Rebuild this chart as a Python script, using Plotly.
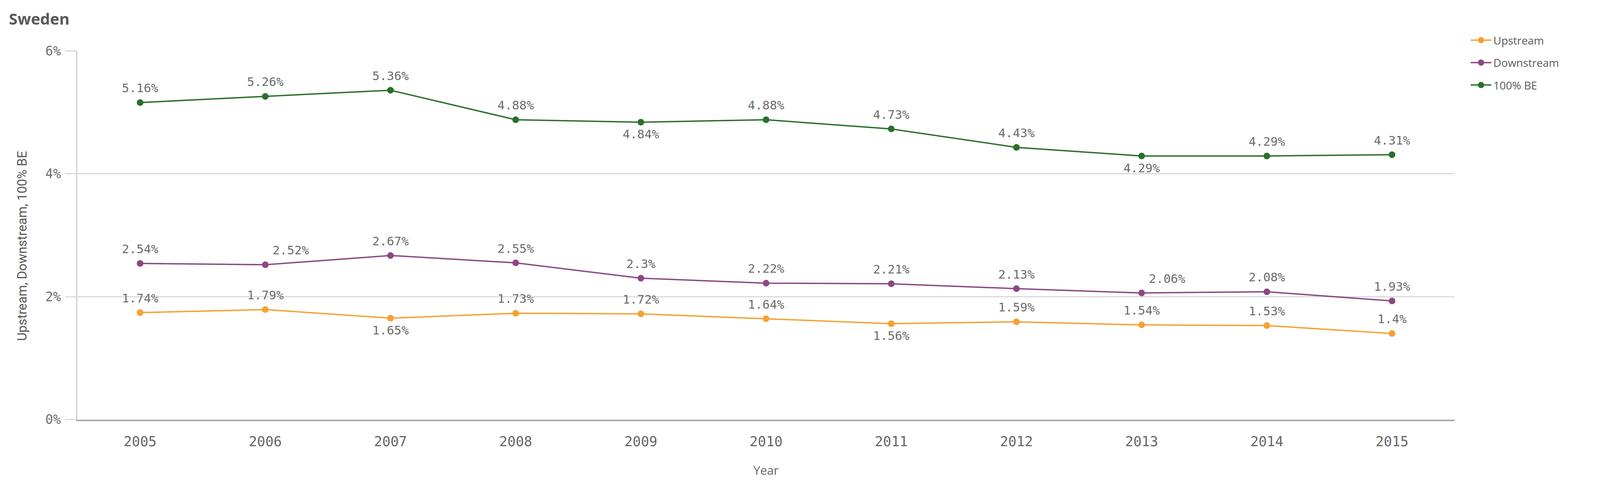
import plotly.graph_objects as go

years = ["2005", "2006", "2007", "2008", "2009", "2010", "2011", "2012", "2013", "2014", "2015"]
upstream = [1.74, 1.79, 1.65, 1.73, 1.72, 1.64, 1.56, 1.59, 1.54, 1.53, 1.40]
downstream = [2.54, 2.52, 2.67, 2.55, 2.30, 2.22, 2.21, 2.13, 2.06, 2.08, 1.93]
be100 = [5.16, 5.26, 5.36, 4.88, 4.84, 4.88, 4.73, 4.43, 4.29, 4.29, 4.31]

# label placement for each point
up_pos = ["top center", "top center", "bottom center", "top center", "top center", "top center",
          "bottom center", "top center", "top center", "top center", "top center"]
down_pos = ["top center", "top right", "top center", "top center", "top center", "top center",
            "top center", "top center", "top right", "top center", "top center"]
be_pos = ["top center", "top center", "top center", "top center", "bottom center", "top center",
          "top center", "top center", "bottom center", "top center", "top center"]

y_ticks = [0, 2, 4, 6]
y_tick_text = ["0%", "2%", "4%", "6%"]

series = [
    ("Upstream", upstream, up_pos, "#f7a033"),
    ("Downstream", downstream, down_pos, "#8c4783"),
    ("100% BE", be100, be_pos, "#2a6f2a"),
]

mono = "DejaVu Sans Mono"
sans = "Open Sans"
label_color = "#6b6b6b"

W, H = 4392.0, 1272.0

fig = go.Figure()
for i, (name, vals, pos, color) in enumerate(series):
    fig.add_trace(go.Scatter(
        x=years, y=vals, name=name, mode="lines+markers",
        line=dict(color=color, width=3.5),
        marker=dict(color=color, size=17),
        legendgroup=f"g{i}",
        hoverinfo="skip",
    ))
for i, (name, vals, pos, color) in enumerate(series):
    fig.add_trace(go.Scatter(
        x=years, y=vals, mode="markers+text", showlegend=False,
        text=[f"{v:g}%" for v in vals], textposition=pos,
        textfont=dict(family=mono, size=31, color=label_color),
        marker=dict(size=28, color="rgba(0,0,0,0)"),
        hoverinfo="skip",
    ))

fig.update_layout(
    autosize=True,
    margin=dict(l=0, r=0, t=0, b=0, pad=0),
    paper_bgcolor="white", plot_bgcolor="white",
    title=dict(text="<b>Sweden</b>", x=16 / W, xref="container", xanchor="left",
               y=1 - 42 / H, yref="container", yanchor="middle",
               font=dict(family=sans, size=40, color="#595959")),
    showlegend=True,
    legend=dict(x=0.9196, xanchor="left", y=0.958, yanchor="top",
                font=dict(family=sans, size=28, color="#595959"),
                tracegroupgap=18, itemwidth=53, bgcolor="rgba(0,0,0,0)"),
    annotations=[dict(
        text="Upstream, Downstream, 100% BE", textangle=-90,
        x=0.0118, y=0.505, xref="paper", yref="paper",
        xanchor="center", yanchor="middle", showarrow=False,
        font=dict(family="Roboto", size=33, color="#555555"),
    )],
    xaxis=dict(
        type="category", range=[-0.5, 10.5], domain=[205 / W, 4000 / W],
        showgrid=False, showline=True, linecolor="#a9a9a9", linewidth=4,
        ticks="", ticklabelstandoff=22,
        tickfont=dict(family=mono, size=35, color="#666666"),
        title=dict(text="Year", standoff=46, font=dict(family=sans, size=31, color="#666666")),
        zeroline=False,
    ),
    yaxis=dict(
        range=[0, 6], tickvals=y_ticks, ticktext=y_tick_text,
        domain=[1 - 1094 / H, 1 - 108 / H],
        showgrid=True, gridcolor="#dadada", gridwidth=3,
        showline=True, linecolor="#d0d0d0", linewidth=3,
        ticks="outside", ticklen=29, tickcolor="#dadada", tickwidth=3,
        ticklabelstandoff=4,
        tickfont=dict(family=mono, size=33, color="#6e6e6e"),
        zeroline=False,
    ),
)

fig.write_html("out.html")
